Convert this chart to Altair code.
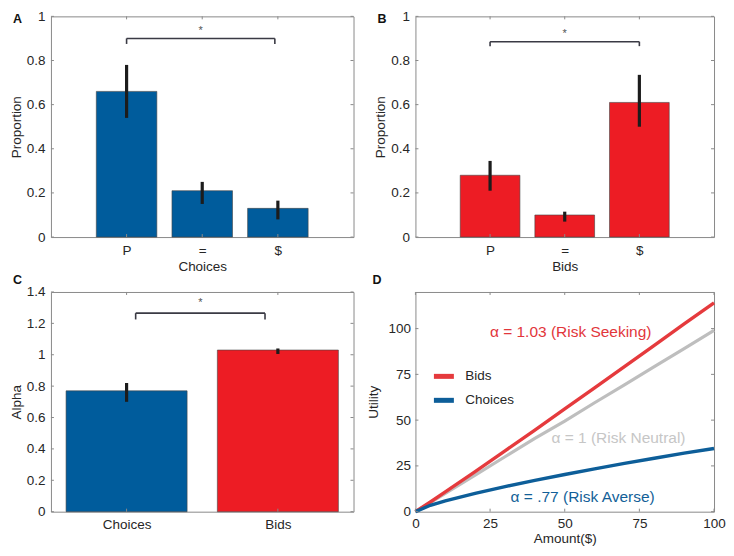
import altair as alt
import pandas as pd

# ---------------- data ----------------
A_labels = ["P", "=", "$"]
A_pos = [1, 2, 3]
A_vals = [0.66, 0.21, 0.13]
A_lo = [0.54, 0.15, 0.08]
A_hi = [0.78, 0.25, 0.165]

B_labels = ["P", "=", "$"]
B_pos = [1, 2, 3]
B_vals = [0.28, 0.10, 0.61]
B_lo = [0.21, 0.07, 0.50]
B_hi = [0.345, 0.115, 0.735]

C_labels = ["Choices", "Bids"]
C_pos = [1, 2]
C_vals = [0.77, 1.03]
C_lo = [0.70, 1.005]
C_hi = [0.82, 1.04]

# significance brackets: x ends, bar level, tip level, star level
A_br_x = [1.0, 2.96]; A_br_y = 0.90; A_br_tip = 0.875; A_star_y = 0.935
B_br_x = [1.0, 3.0];  B_br_y = 0.885; B_br_tip = 0.865; B_star_y = 0.92
C_br_x = [1.06, 1.915]; C_br_y = 1.265; C_br_tip = 1.225; C_star_y = 1.33

# panel D utility curves
D_x = [0, 5, 10, 20, 30, 40, 50, 60, 70, 80, 90, 100]
D_bids = [0, 5.3, 10.8, 21.9, 33.2, 44.6, 56.1, 67.6, 79.2, 90.9, 102.6, 114.0]
D_choices = [0, 3.5, 5.9, 10.0, 13.7, 17.1, 20.3, 23.4, 26.4, 29.2, 32.0, 34.5]
D_neutral = [0, 5, 10, 20, 30, 40, 49.5, 59.5, 69.3, 79.2, 89.1, 99.0]
D_ann_text = ["α = 1.03 (Risk Seeking)", "α = 1 (Risk Neutral)", "α = .77 (Risk Averse)"]
D_ann_x = [52, 68, 56]
D_ann_y = [98, 40.5, 8]
D_ann_col = ["#E2363B", "#C6C6C6", "#135F98"]

prop_ticks = [0, 0.2, 0.4, 0.6, 0.8, 1]
alpha_ticks = [0, 0.2, 0.4, 0.6, 0.8, 1.0, 1.2, 1.4]
D_xticks = [0, 25, 50, 75, 100]
D_yticks = [0, 25, 50, 75, 100]

# ---------------- style ----------------
FONT = "Liberation Sans"
TXT = "#262626"
BOX = "#8a8a8a"
BLUE = "#005C9C"
RED = "#ED1C24"
ERR = "#1c1c1c"
BRK = "#3a3a44"
TL = 3  # inward tick length
FS = 13.5


def tick_layers(xenc_f, yenc_f, xt, yt, W, H):
    xdf = pd.DataFrame({"t": xt})
    ydf = pd.DataFrame({"t": yt})
    layers = []
    for a, b in [(0, TL), (W - TL, W)]:
        layers.append(alt.Chart(ydf).mark_rule(color=BOX, strokeWidth=1).encode(
            y=yenc_f("t"), x=alt.value(a), x2=alt.value(b)))
    for a, b in [(H - TL, H), (0, TL)]:
        layers.append(alt.Chart(xdf).mark_rule(color=BOX, strokeWidth=1).encode(
            x=xenc_f("t"), y=alt.value(a), y2=alt.value(b)))
    return layers


def bar_panel(letter, letter_y, labels, pos, vals, lo, hi, colors, br_x, br_y, br_tip, star_y,
              xdom, ydom, yticks, ytitle, xtitle, W, H):
    lab_expr = "{" + ",".join(f"'{p}':'{l}'" for p, l in zip(pos, labels)) + "}[datum.value]"
    xaxis = alt.Axis(values=pos, labelExpr=lab_expr, title=xtitle)
    yaxis = alt.Axis(values=yticks, format="~g", title=ytitle)

    def xe(f):
        return alt.X(f, type="quantitative", scale=alt.Scale(domain=xdom, nice=False, zero=False), axis=xaxis)

    def ye(f):
        return alt.Y(f, type="quantitative", scale=alt.Scale(domain=ydom, nice=False), axis=yaxis)

    df = pd.DataFrame({"pos": pos, "val": vals, "lo": lo, "hi": hi, "lab": labels, "col": colors})
    bars = alt.Chart(df).transform_calculate(
        x0="datum.pos - 0.4", x1="datum.pos + 0.4"
    ).mark_bar(stroke="#444444", strokeWidth=0.6).encode(
        x=xe("x0"), x2="x1", y=ye("val"), y2=alt.datum(0), fill=alt.Fill("col:N", scale=None))
    err = alt.Chart(df).mark_rule(color=ERR, strokeWidth=3.2).encode(
        x=xe("pos"), y=ye("lo"), y2="hi")
    brdf = pd.DataFrame({"xa": [br_x[0]], "xb": [br_x[1]], "y": [br_y],
                         "xm": [(br_x[0] + br_x[1]) / 2], "ys": [star_y]})
    tipdf = pd.DataFrame({"x": br_x, "y0": [br_tip] * 2, "y1": [br_y] * 2})
    br = alt.Chart(brdf).mark_rule(color=BRK, strokeWidth=1.6).encode(
        x=xe("xa"), x2="xb", y=ye("y"))
    tips = alt.Chart(tipdf).mark_rule(color=BRK, strokeWidth=1.6).encode(
        x=xe("x"), y=ye("y0"), y2="y1")
    star = alt.Chart(brdf).mark_text(text="*", fontSize=11, color="#555555", baseline="middle").encode(
        x=xe("xm"), y=ye("ys"))
    letter_t = alt.Chart(pd.DataFrame({"l": [letter]})).mark_text(
        fontSize=12.5, fontWeight="bold", color="#111111", align="left", baseline="middle").encode(
        text="l:N", x=alt.value(-38), y=alt.value(letter_y))
    layers = [bars, err, br, tips, star] + tick_layers(xe, ye, pos, yticks, W, H) + [letter_t]
    return alt.layer(*layers).properties(width=W, height=H)


WA, HA = 303, 221
WB = 299
WC, HC = 303, 220
WD = 299
GAP_X, GAP_Y = 62, 55

A = bar_panel("A", 3, A_labels, A_pos, A_vals, A_lo, A_hi, [BLUE] * 3, A_br_x, A_br_y, A_br_tip, A_star_y,
              [0, 4], [0, 1], prop_ticks, "Proportion", "Choices", WA, HA)
B = bar_panel("B", 3, B_labels, B_pos, B_vals, B_lo, B_hi, [RED] * 3, B_br_x, B_br_y, B_br_tip, B_star_y,
              [0, 4], [0, 1], prop_ticks, "Proportion", "Bids", WB, HA)
C = bar_panel("C", -12, C_labels, C_pos, C_vals, C_lo, C_hi, [BLUE, RED], C_br_x, C_br_y, C_br_tip, C_star_y,
              [0.5, 2.5], [0, 1.4], alpha_ticks, "Alpha", None, WC, HC)

# ---------------- panel D ----------------
dxaxis = alt.Axis(values=D_xticks, title="Amount($)", titlePadding=1, labelPadding=5)
dyaxis = alt.Axis(values=D_yticks, title="Utility", titlePadding=7, labelPadding=5)


def dxe(f):
    return alt.X(f, type="quantitative", scale=alt.Scale(domain=[0, 100], nice=False), axis=dxaxis)


def dye(f):
    return alt.Y(f, type="quantitative", scale=alt.Scale(domain=[0, 120], nice=False), axis=dyaxis)


neutral_df = pd.DataFrame({"x": D_x, "y": D_neutral})
curves_df = pd.DataFrame({
    "x": D_x * 2,
    "y": D_bids + D_choices,
    "series": ["Bids"] * len(D_x) + ["Choices"] * len(D_x),
})
neutral = alt.Chart(neutral_df).mark_line(color="#BEBEBE", strokeWidth=3.2).encode(
    x=dxe("x"), y=dye("y"))
curves = alt.Chart(curves_df).mark_line(strokeWidth=3.4).encode(
    x=dxe("x"), y=dye("y"),
    color=alt.Color("series:N", scale=alt.Scale(domain=["Bids", "Choices"], range=["#E53A3D", "#0D5E99"]),
                    legend=alt.Legend(title=None, orient="none", legendX=16, legendY=72,
                                      symbolType="stroke", symbolSize=400, symbolStrokeWidth=5,
                                      labelFontSize=FS, labelColor=TXT, labelFont=FONT,
                                      labelOffset=9, rowPadding=1, padding=0)),
    order=alt.Order("x:Q"))
ann_df = pd.DataFrame({"t": D_ann_text, "x": D_ann_x, "y": D_ann_y, "c": D_ann_col})
ann = alt.Chart(ann_df).mark_text(fontSize=15.5, baseline="middle", align="center").encode(
    x=dxe("x"), y=dye("y"), text="t:N", fill=alt.Fill("c:N", scale=None))
letterD = alt.Chart(pd.DataFrame({"l": ["D"]})).mark_text(
    fontSize=12.5, fontWeight="bold", color="#111111", align="left", baseline="middle").encode(
    text="l:N", x=alt.value(-43), y=alt.value(-12))
D = alt.layer(neutral, curves, ann, *tick_layers(dxe, dye, D_xticks, D_yticks, WD, HC), letterD).properties(
    width=WD, height=HC)

chart = alt.concat(A, B, C, D, columns=2, spacing={"row": GAP_Y, "column": GAP_X}, bounds="flush").resolve_scale(
    color="independent"
).resolve_legend(
    color="independent"
).properties(padding=0).configure_view(
    stroke=BOX, strokeWidth=1
).configure_axis(
    grid=False, domain=False, ticks=False, labelFlush=False,
    labelFont=FONT, labelFontSize=FS, labelColor=TXT, labelPadding=6,
    titleFont=FONT, titleFontSize=FS, titleFontWeight="normal", titleColor=TXT, titlePadding=3
).configure_text(font=FONT)

chart.save("out.html", embed_options={"renderer": "svg", "actions": False})
